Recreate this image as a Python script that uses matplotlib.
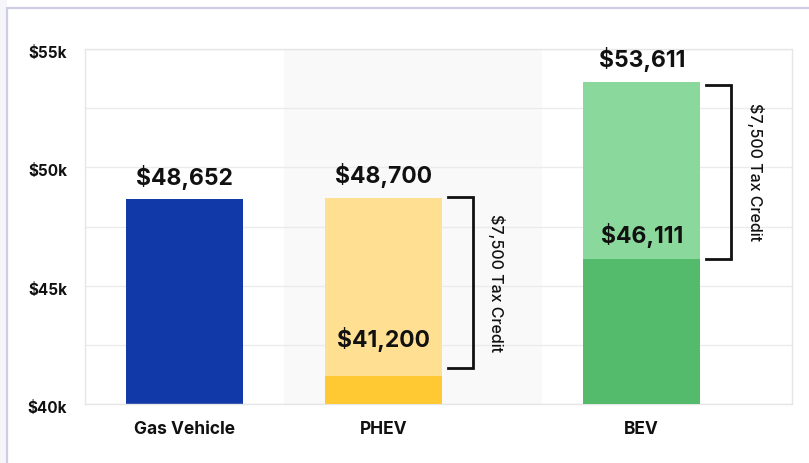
import matplotlib
matplotlib.use("Agg")
import matplotlib.pyplot as plt
from matplotlib.patches import Rectangle
import matplotlib.transforms as mtransforms

# ---- data ----
categories = ["Gas Vehicle", "PHEV", "BEV"]
full_price = [48652, 48700, 53611]
net_price = [None, 41200, 46111]
tax_credit = 7500
credit_label = "$7,500 Tax Credit"
y_ticks = [40000, 45000, 50000, 55000]
y_tick_labels = ["$40k", "$45k", "$50k", "$55k"]

# ---- layout / style ----
positions = [0.0, 1.0, 2.298]
bar_w = 0.588
top_colors = ["#1239A8", "#FFE093", "#8AD89C"]
low_colors = [None, "#FFC933", "#55BB6C"]
low_label_offset = [0, 17, 8]
bracket_top_shift = [0, 60, -150]
bracket_bot_shift = [0, 300, 0]
font = ["Inter", "DejaVu Sans"]
plt.rcParams["font.family"] = font

fig = plt.figure(figsize=(8.09, 4.63), dpi=100)
fig.patch.set_facecolor("white")
# card frame
fig.patches.append(Rectangle((0, 0), 7.5 / 809, 1, transform=fig.transFigure,
                             facecolor="#F6F6FA", edgecolor="none", zorder=-2))
fig.patches.append(Rectangle((7.5 / 809, -0.1), 1.2, (463 - 8) / 463 + 0.1,
                             transform=fig.transFigure, facecolor="white",
                             edgecolor="#CDCDE6", lw=1.6, zorder=-1))

ax = fig.add_axes([85 / 809, (463 - 404) / 463, (792 - 85) / 809, (404 - 49) / 463])
ax.set_zorder(1)
ax.set_xlim(-0.5, 3.053)
ax.set_ylim(40000, 55000)

ax.axvspan(0.5, 1.796, color="#F9F9F9", zorder=0, lw=0)

ax.set_yticks(y_ticks)
ax.set_yticklabels(y_tick_labels, fontsize=11, fontweight="bold", color="#111111")
ax.set_yticks([42500, 47500, 52500], minor=True)
ax.grid(True, which="both", axis="y", color="#EBEBEB", lw=1, zorder=0.5)
ax.tick_params(axis="y", which="both", length=0, pad=13)
shift = mtransforms.ScaledTranslation(0, -3 / 100, fig.dpi_scale_trans)
for lab in ax.get_yticklabels():
    lab.set_transform(lab.get_transform() + shift)
ax.set_xticks(positions)
ax.set_xticklabels(categories, fontsize=12.5, fontweight="bold", color="#111111")
ax.tick_params(axis="x", length=0, pad=12)
for s in ax.spines.values():
    s.set_color("#E6E6E6")
    s.set_linewidth(1)
ax.set_axisbelow(True)

def fmt(v):
    return "${:,}".format(v)

for i, (x, top) in enumerate(zip(positions, full_price)):
    ax.bar(x, top - 40000, bottom=40000, width=bar_w, color=top_colors[i], zorder=2)
    ax.annotate(fmt(top), (x, top), xytext=(0, 7), textcoords="offset points",
                ha="center", va="bottom", fontsize=16.5, fontweight="bold",
                color="#111111", zorder=4)
    low = net_price[i]
    if low is not None:
        ax.bar(x, low - 40000, bottom=40000, width=bar_w, color=low_colors[i], zorder=3)
        ax.annotate(fmt(low), (x, low), xytext=(0, low_label_offset[i]),
                    textcoords="offset points", ha="center", va="bottom",
                    fontsize=16.5, fontweight="bold", color="#111111", zorder=4)
        # bracket
        x0 = x + bar_w / 2 + 0.03
        x1 = x0 + 0.126
        y_top = top + bracket_top_shift[i]
        y_bot = top - tax_credit + bracket_bot_shift[i]
        ax.plot([x0, x1, x1, x0], [y_top, y_top, y_bot, y_bot], color="#111111",
                lw=2, solid_joinstyle="miter", zorder=4, clip_on=False)
        ax.text(x1 + 0.12, (y_top + y_bot) / 2, credit_label, rotation=270,
                ha="center", va="center", fontsize=11.5, fontweight="medium",
                color="#111111", zorder=4)

fig.savefig("out.png", dpi=100)
